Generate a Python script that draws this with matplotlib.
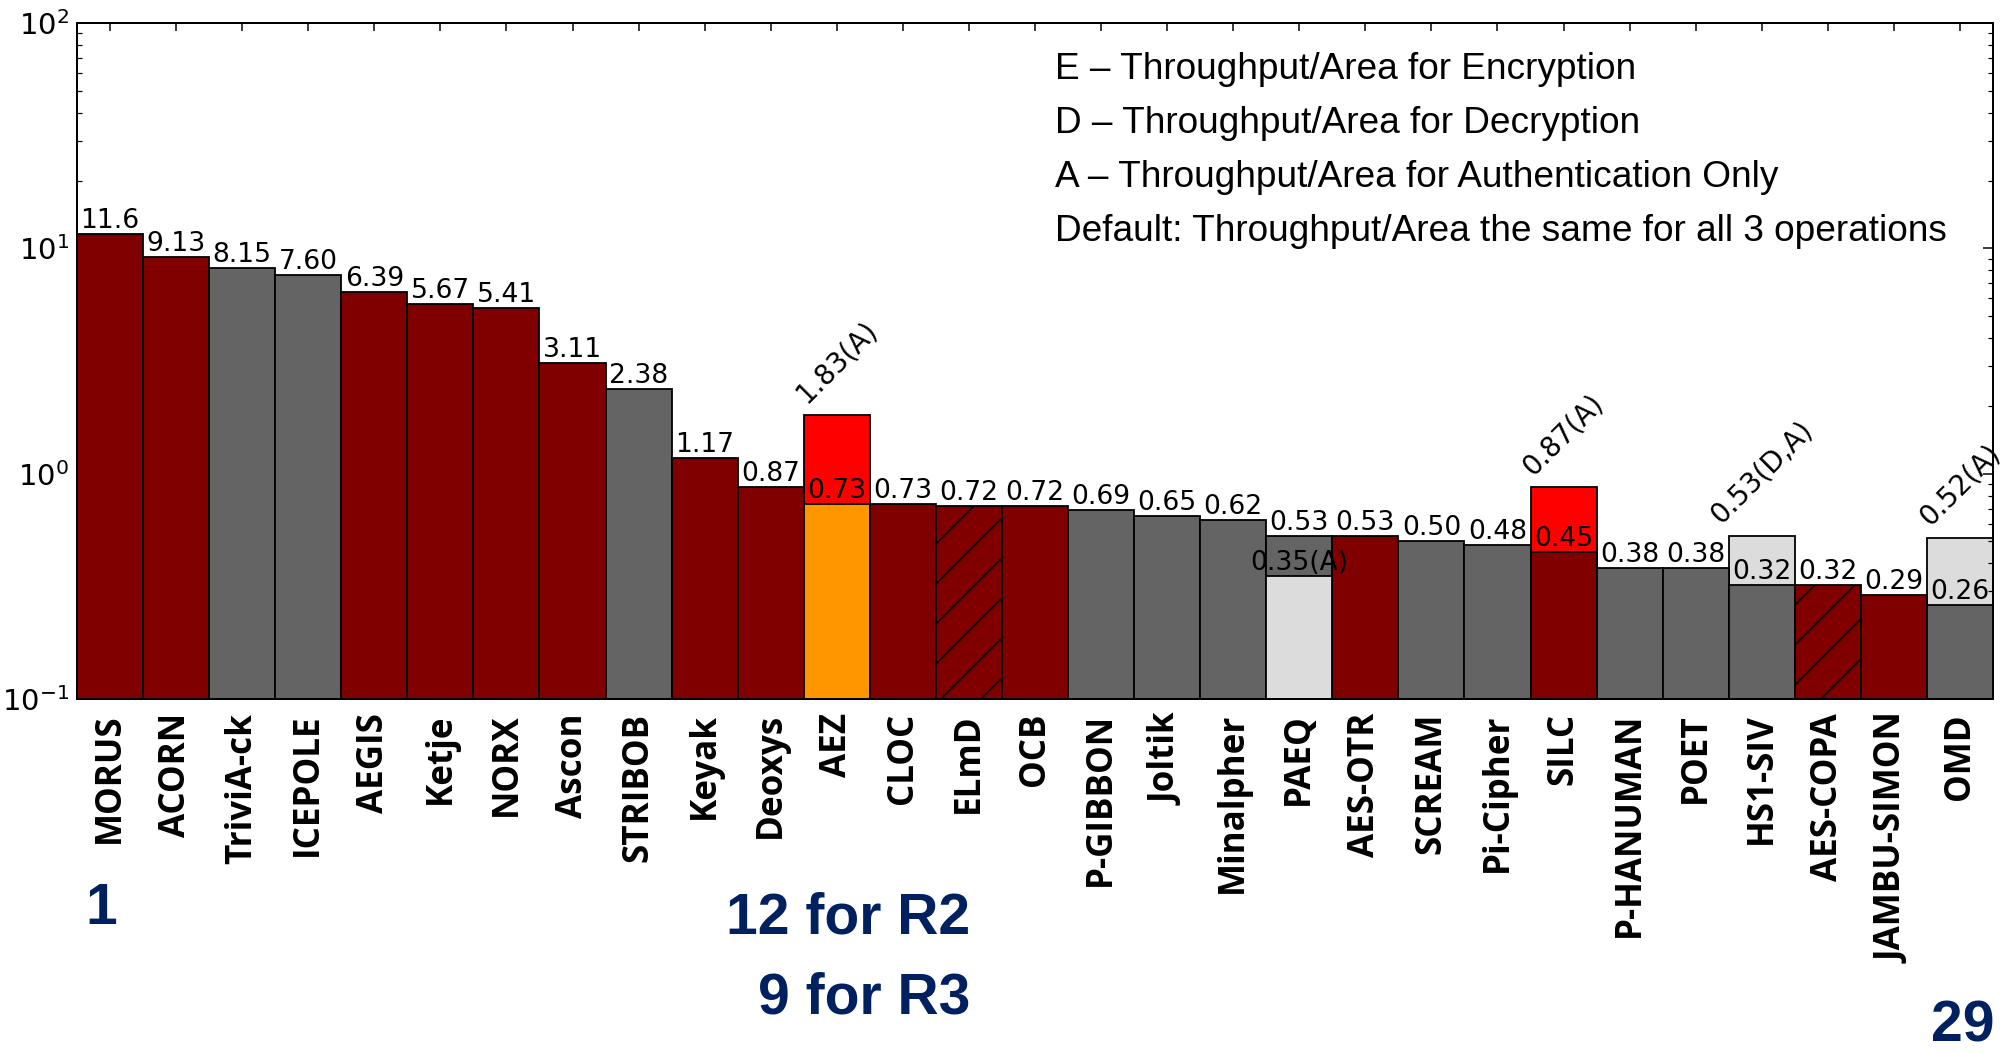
import numpy as np
import matplotlib
matplotlib.use("Agg")
import matplotlib.pyplot as plt
from matplotlib.ticker import LogLocator, NullFormatter

DPI = 240
W, H = 2007, 1054


def px(v):
    """pixels -> points at the chosen dpi"""
    return v * 72.0 / DPI


# ---------------- data ----------------
names = ["MORUS", "ACORN", "TriviA-ck", "ICEPOLE", "AEGIS", "Ketje", "NORX",
         "Ascon", "STRIBOB", "Keyak", "Deoxys", "AEZ", "CLOC", "ELmD", "OCB",
         "P-GIBBON", "Joltik", "Minalpher", "PAEQ", "AES-OTR", "SCREAM",
         "Pi-Cipher", "SILC", "P-HANUMAN", "POET", "HS1-SIV", "AES-COPA",
         "JAMBU-SIMON", "OMD"]
values = [11.6, 9.13, 8.15, 7.60, 6.39, 5.67, 5.41, 3.11, 2.38, 1.17, 0.87,
          0.73, 0.73, 0.72, 0.72, 0.69, 0.65, 0.62, 0.53, 0.53, 0.50, 0.48,
          0.45, 0.38, 0.38, 0.32, 0.32, 0.29, 0.26]
groups = ["r", "r", "g", "g", "r", "r", "r", "r", "g", "r", "r", "o", "r",
          "r", "r", "g", "g", "g", "g", "r", "g", "g", "r", "g", "g", "g",
          "r", "r", "g"]
hatched = ["ELmD", "AES-COPA"]

extra_names = ["AEZ", "PAEQ", "SILC", "HS1-SIV", "OMD"]
extra_values = [1.83, 0.35, 0.87, 0.53, 0.52]
extra_groups = ["red", "l", "red", "l", "l"]
extra_labels = ["1.83(A)", "0.35(A)", "0.87(A)", "0.53(D,A)", "0.52(A)"]

notes = ["E \u2013 Throughput/Area for Encryption",
         "D \u2013 Throughput/Area for Decryption",
         "A \u2013 Throughput/Area for Authentication Only",
         "Default: Throughput/Area the same for all 3 operations"]

palette = {"r": "#800000", "g": "#646464", "o": "#ff9600",
           "red": "#ff0000", "l": "#dcdcdc"}
navy = "#002060"

plt.rcParams["hatch.linewidth"] = px(1.5)

fig = plt.figure(figsize=(W / DPI, H / DPI), dpi=DPI)
ax = fig.add_axes([77 / W, 1 - 699 / H, (1993 - 77) / W, (699 - 23) / H])
ax.set_yscale("log")

x = np.arange(len(names))
idx = {n: i for i, n in enumerate(names)}

# extras that are taller than the main bar go behind it
for n, v, g in zip(extra_names, extra_values, extra_groups):
    i = idx[n]
    z = 1 if v > values[i] else 3
    ax.bar(i, v, width=1.0, color=palette[g], edgecolor="black",
           linewidth=px(1.8), zorder=z)

bars = ax.bar(x, values, width=1.0, color=[palette[g] for g in groups],
              edgecolor="black", linewidth=px(1.8), zorder=2)
for n, b in zip(names, bars):
    if n in hatched:
        b.set_hatch("//")

lab_fs = px(26.5)
for i, v in enumerate(values):
    s = f"{v:.3g}" if v >= 10 else f"{v:.2f}"
    ax.annotate(s, (i, v), xytext=(0, px(6)), textcoords="offset points",
                ha="center", va="baseline", fontsize=lab_fs, zorder=5)

for n, v, s in zip(extra_names, extra_values, extra_labels):
    i = idx[n]
    if v > values[i]:
        ax.annotate(s, (i, v), xytext=(0, px(7)), textcoords="offset points",
                    ha="center", va="bottom", rotation=45,
                    fontsize=px(27.5), zorder=5)
    else:
        ax.annotate(s, (i, v), xytext=(0, px(6)), textcoords="offset points",
                    ha="center", va="baseline", fontsize=lab_fs, zorder=5)

ax.set_xlim(-0.5, len(names) - 0.5)
ax.set_ylim(0.1, 100)
ax.yaxis.set_major_locator(LogLocator(base=10))
ax.yaxis.set_minor_locator(LogLocator(base=10, subs=np.arange(2, 10)))
ax.yaxis.set_minor_formatter(NullFormatter())

ax.set_xticks(x)
ax.set_xticklabels(names, rotation=90, fontfamily="Open Sans",
                   fontweight="bold", fontsize=px(35), color="black")
ax.tick_params(axis="x", which="major", direction="in", top=True,
               bottom=True, length=px(8), width=px(1.5), pad=px(14))
ax.tick_params(axis="y", which="major", direction="in", left=True,
               right=True, length=px(10), width=px(1.5), pad=px(8),
               labelsize=px(29))
ax.tick_params(axis="y", which="minor", direction="in", left=True,
               right=True, length=px(5), width=px(1.2))
ax.tick_params(axis="x", which="minor", bottom=False, top=False)
for sp in ax.spines.values():
    sp.set_linewidth(px(2))
    sp.set_zorder(6)

# notes text
for k, t in enumerate(notes):
    fig.text(1055 / W, 1 - (79 + 54 * k) / H, t, ha="left", va="baseline",
             fontfamily="Liberation Sans", fontsize=px(37), color="black")

big_font = ["Liberation Sans"]
big_fs = px(57)
fig.text(101 / W, 1 - 924 / H, "1", ha="center", va="baseline",
         fontfamily=big_font, fontweight="bold", fontsize=big_fs, color=navy)
fig.text(970 / W, 1 - 933 / H, "12 for R2", ha="right", va="baseline",
         fontfamily=big_font, fontweight="bold", fontsize=big_fs, color=navy)
fig.text(970 / W, 1 - 1013 / H, "9 for R3", ha="right", va="baseline",
         fontfamily=big_font, fontweight="bold", fontsize=big_fs, color=navy)
fig.text(1994 / W, 1 - 1053 / H, "29", ha="right", va="bottom",
         fontfamily=big_font, fontweight="bold", fontsize=big_fs, color=navy)

fig.savefig("out.png", dpi=DPI)
